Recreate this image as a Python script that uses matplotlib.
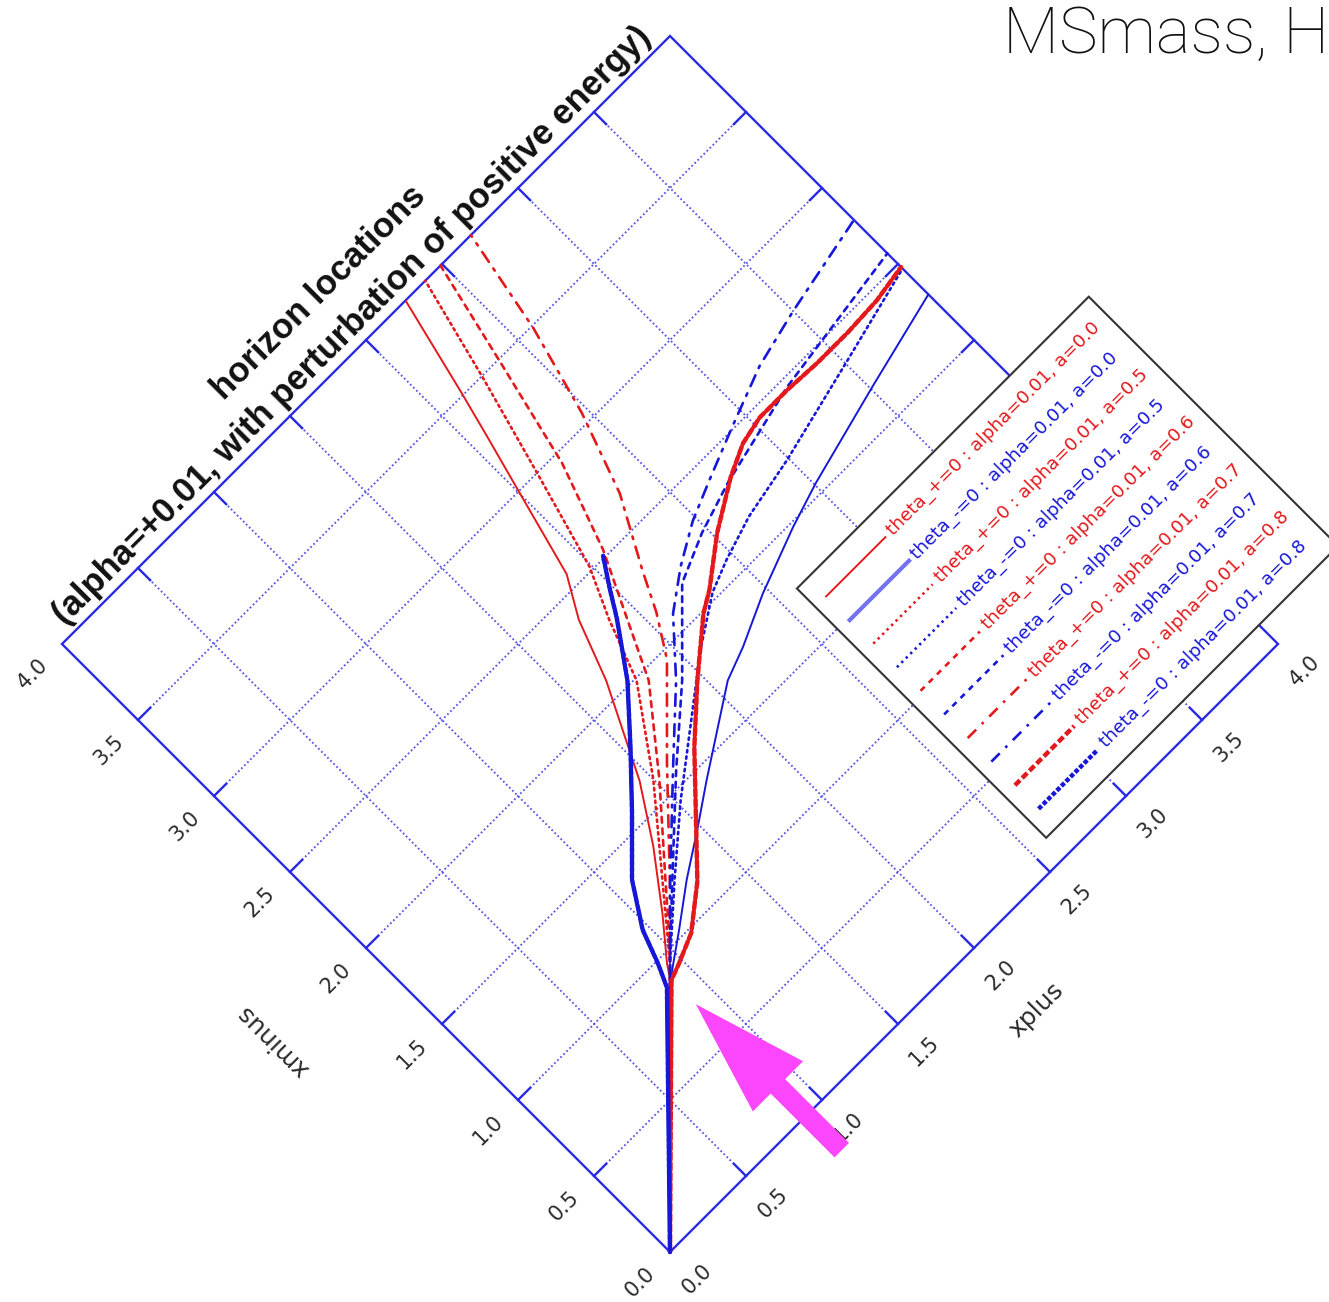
import numpy as np
import matplotlib
matplotlib.use("Agg")
import matplotlib.pyplot as plt
from matplotlib.transforms import Affine2D
from matplotlib.patches import Rectangle, FancyArrow

# ---------------------------------------------------------------- data
tick_values = [0.0, 0.5, 1.0, 1.5, 2.0, 2.5, 3.0, 3.5, 4.0]
tick_labels = ["0.0", "0.5", "1.0", "1.5", "2.0", "2.5", "3.0", "3.5", "4.0"]

# theta_+ = 0 horizons (red), theta_- = 0 horizons (blue); (xplus, xminus) pairs
plus_a00_xp = [0.00, 0.90, 0.94, 1.09, 1.28, 1.45, 1.56, 1.67, 1.78, 1.89, 2.01, 2.08, 2.14, 2.26]
plus_a00_xm = [0.00, 0.90, 0.96, 1.14, 1.39, 1.65, 1.87, 2.09, 2.38, 2.57, 3.02, 3.28, 3.51, 4.00]
minus_a00_xp = [0.00, 0.92, 1.09, 1.28, 1.48, 1.67, 1.87, 2.07, 2.23, 2.47, 2.79, 3.01, 3.51, 4.00]
minus_a00_xm = [0.00, 0.91, 1.03, 1.17, 1.30, 1.43, 1.56, 1.69, 1.75, 1.86, 1.98, 2.05, 2.18, 2.30]

plus_a05_xp = [0.00, 0.95, 1.20, 1.50, 1.77, 1.88, 1.99, 2.12, 2.26, 2.39]
plus_a05_xm = [0.00, 0.95, 1.25, 1.61, 1.99, 2.28, 2.52, 2.98, 3.49, 4.00]
minus_a05_xp = [0.00, 0.95, 1.24, 1.52, 1.82, 2.08, 2.31, 2.46, 2.68, 2.99, 3.52, 4.00]
minus_a05_xm = [0.00, 0.95, 1.21, 1.45, 1.68, 1.88, 2.03, 2.09, 2.16, 2.22, 2.35, 2.47]

plus_a06_xp = [0.00, 1.00, 1.21, 1.52, 1.81, 1.94, 2.09, 2.24, 2.37, 2.49]
plus_a06_xm = [0.00, 1.00, 1.24, 1.59, 1.95, 2.22, 2.53, 2.95, 3.49, 4.00]
minus_a06_xp = [0.00, 1.00, 1.30, 1.60, 1.92, 2.24, 2.47, 2.72, 3.23, 4.00]
minus_a06_xm = [0.00, 1.00, 1.28, 1.56, 1.84, 2.16, 2.26, 2.34, 2.46, 2.57]

plus_a07_xp = [0.00, 1.20, 1.60, 1.94, 2.06, 2.15, 2.33, 2.47, 2.59, 2.69]
plus_a07_xm = [0.00, 1.20, 1.62, 1.96, 2.15, 2.33, 2.66, 3.05, 3.49, 4.00]
minus_a07_xp = [0.00, 1.20, 1.60, 1.90, 2.11, 2.29, 2.48, 2.67, 2.92, 3.21, 3.50, 4.00]
minus_a07_xm = [0.00, 1.20, 1.58, 1.86, 2.09, 2.22, 2.33, 2.41, 2.51, 2.62, 2.69, 2.79]

plus_a08_xp = [0.00, 0.90, 0.98, 1.12, 1.31, 1.53, 1.74, 1.97, 2.21, 2.31, 2.52, 2.75,
               2.90, 3.04, 3.22, 3.41, 3.61, 3.81, 4.00]
plus_a08_xm = [0.00, 0.89, 0.92, 0.98, 1.13, 1.36, 1.58, 1.79, 1.99, 2.05, 2.21, 2.35,
               2.42, 2.45, 2.45, 2.44, 2.44, 2.45, 2.48]
minus_a08_xp = [0.00, 0.86, 0.91, 0.97, 1.10, 1.32, 1.53, 1.74, 1.91, 1.99, 2.07]
minus_a08_xm = [0.00, 0.88, 0.99, 1.15, 1.35, 1.57, 1.79, 2.02, 2.26, 2.39, 2.51]

legend_labels = [
    "theta_+=0 : alpha=0.01, a=0.0",
    "theta_-=0 : alpha=0.01, a=0.0",
    "theta_+=0 : alpha=0.01, a=0.5",
    "theta_-=0 : alpha=0.01, a=0.5",
    "theta_+=0 : alpha=0.01, a=0.6",
    "theta_-=0 : alpha=0.01, a=0.6",
    "theta_+=0 : alpha=0.01, a=0.7",
    "theta_-=0 : alpha=0.01, a=0.7",
    "theta_+=0 : alpha=0.01, a=0.8",
    "theta_-=0 : alpha=0.01, a=0.8",
]

title_line1 = "horizon locations"
title_line2 = "(alpha=+0.01, with perturbation of positive energy)"
xlabel = "xplus"
ylabel = "xminus"
corner_text = "MSmass, H"

# ---------------------------------------------------------------- styles
RED = "#e3191c"
BLUE = "#1717d8"
FRAME = "#2a2ae6"
GRID = "#4646e6"
TEXT = "#2a2a2a"

curve_styles = [
    dict(color=RED, lw=1.4, ls="-"),
    dict(color=BLUE, lw=1.4, ls="-"),
    dict(color=RED, lw=1.9, ls=(0, (0.9, 1.5))),
    dict(color=BLUE, lw=1.9, ls=(0, (0.9, 1.5))),
    dict(color=RED, lw=1.9, ls=(0, (2.2, 2.2))),
    dict(color=BLUE, lw=1.9, ls=(0, (2.2, 2.2))),
    dict(color=RED, lw=1.9, ls=(0, (4.5, 3.0, 1.0, 3.0))),
    dict(color=BLUE, lw=1.9, ls=(0, (4.5, 3.0, 1.0, 3.0))),
    dict(color=RED, lw=3.2, ls=(0, (1.6, 0.7))),
    dict(color=BLUE, lw=3.2, ls=(0, (1.0, 0.45))),
]
legend_styles = list(curve_styles)
legend_styles[1] = dict(color="#7272ee", lw=3.0, ls="-")
label_colors = [RED, BLUE] * 5

curves = [
    (plus_a00_xp, plus_a00_xm), (minus_a00_xp, minus_a00_xm),
    (plus_a05_xp, plus_a05_xm), (minus_a05_xp, minus_a05_xm),
    (plus_a06_xp, plus_a06_xm), (minus_a06_xp, minus_a06_xm),
    (plus_a07_xp, plus_a07_xm), (minus_a07_xp, minus_a07_xm),
    (plus_a08_xp, plus_a08_xm), (minus_a08_xp, minus_a08_xm),
]

# ---------------------------------------------------------------- canvas
W_PX, H_PX, DPI = 1329, 1302, 100
ORIGIN_PX = (670.0, 1252.0)   # screen position of xplus = xminus = 0 (from top-left)
UNIT_PX = 152.0               # horizontal / vertical shift per data unit

fig = plt.figure(figsize=(W_PX / DPI, H_PX / DPI), dpi=DPI)
ax = fig.add_axes([0, 0, 1, 1])
ax.set_axis_off()
diag = UNIT_PX * np.sqrt(2.0)
ax.set_xlim(-ORIGIN_PX[0] / diag, (W_PX - ORIGIN_PX[0]) / diag)
ax.set_ylim(-(H_PX - ORIGIN_PX[1]) / diag, ORIGIN_PX[1] / diag)

# the (xplus, xminus) plane, turned by 45 degrees
T = Affine2D().rotate_deg(45) + ax.transData

lo, hi = tick_values[0], tick_values[-1]
inner = tick_values[1:-1]

# grid
for t in inner:
    ax.plot([t, t], [lo, hi], transform=T, color=GRID, lw=1.4,
            ls=(0, (0.9, 1.3)), alpha=0.9, zorder=1)
    ax.plot([lo, hi], [t, t], transform=T, color=GRID, lw=1.4,
            ls=(0, (0.9, 1.3)), alpha=0.9, zorder=1)

# frame and inward ticks on all four sides
ax.plot([lo, hi, hi, lo, lo], [lo, lo, hi, hi, lo], transform=T, color=FRAME,
        lw=1.7, solid_joinstyle="miter", zorder=3)
tick_len = 0.08
for t in inner:
    for seg in (([t, t], [lo, lo + tick_len]), ([t, t], [hi - tick_len, hi]),
                ([lo, lo + tick_len], [t, t]), ([hi - tick_len, hi], [t, t])):
        ax.plot(*seg, transform=T, color=FRAME, lw=1.7, zorder=3)

# tick labels
tick_font = dict(family="DejaVu Sans", fontsize=15, color=TEXT)
for t, lab in zip(tick_values, tick_labels):
    ax.text(t, lo - 0.175, lab, transform=T, rotation=45, rotation_mode="anchor",
            ha="center", va="center", **tick_font)
    ax.text(lo - 0.195, t, lab, transform=T, rotation=45, rotation_mode="anchor",
            ha="center", va="center", **tick_font)

# axis titles
mid = 0.5 * (lo + hi)
ax.text(mid, lo - 0.41, xlabel, transform=T, rotation=45, rotation_mode="anchor",
        ha="center", va="center", family="DejaVu Sans", fontsize=18, color=TEXT)
ax.text(lo - 0.61, mid, ylabel, transform=T, rotation=135, rotation_mode="anchor",
        ha="center", va="center", family="DejaVu Sans", fontsize=18, color=TEXT)

# plot title (two lines)
title_font = dict(family="Liberation Sans", fontweight="bold", fontsize=25, color="#111111")
ax.text(mid, hi + 0.265, title_line1, transform=T, rotation=45, rotation_mode="anchor",
        ha="center", va="baseline", **title_font)
ax.text(mid, hi + 0.05, title_line2, transform=T, rotation=45, rotation_mode="anchor",
        ha="center", va="baseline", **title_font)

# horizon curves
for (xp, xm), st in zip(curves, curve_styles):
    ax.plot(xp, xm, transform=T, zorder=4, solid_capstyle="butt",
            solid_joinstyle="round", dash_capstyle="round", **st)

# legend box
leg_xp0, leg_xp1 = 2.60, 4.52
leg_xm0, leg_xm1 = 0.125, 1.765
ax.add_patch(Rectangle((leg_xp0, leg_xm0), leg_xp1 - leg_xp0, leg_xm1 - leg_xm0,
                       transform=T, facecolor="white", edgecolor="#333333",
                       lw=1.5, zorder=6))
row_top, row_step = 1.643, 0.1553
for i, (lab, st, col) in enumerate(zip(legend_labels, legend_styles, label_colors)):
    y = row_top - i * row_step
    ax.plot([2.67, 3.06], [y, y], transform=T, zorder=7, **st)
    ax.text(3.09, y, lab, transform=T, rotation=45, rotation_mode="anchor",
            ha="left", va="center", family="DejaVu Sans", fontsize=13.2,
            color=col, zorder=7)

# pointer arrow
ax.add_patch(FancyArrow(0.90, -0.23, 0.0, 0.96, width=0.095, head_width=0.33,
                        head_length=0.54, length_includes_head=True, transform=T,
                        facecolor="#fb46fb", edgecolor="none", zorder=10))

# heading at the top right
fig.text(1003 / W_PX, 1 - 53 / H_PX, corner_text, ha="left", va="baseline",
         family="Roboto", fontweight="light", fontsize=47, color="#111111")

fig.savefig("out.png", dpi=DPI, facecolor="white")
